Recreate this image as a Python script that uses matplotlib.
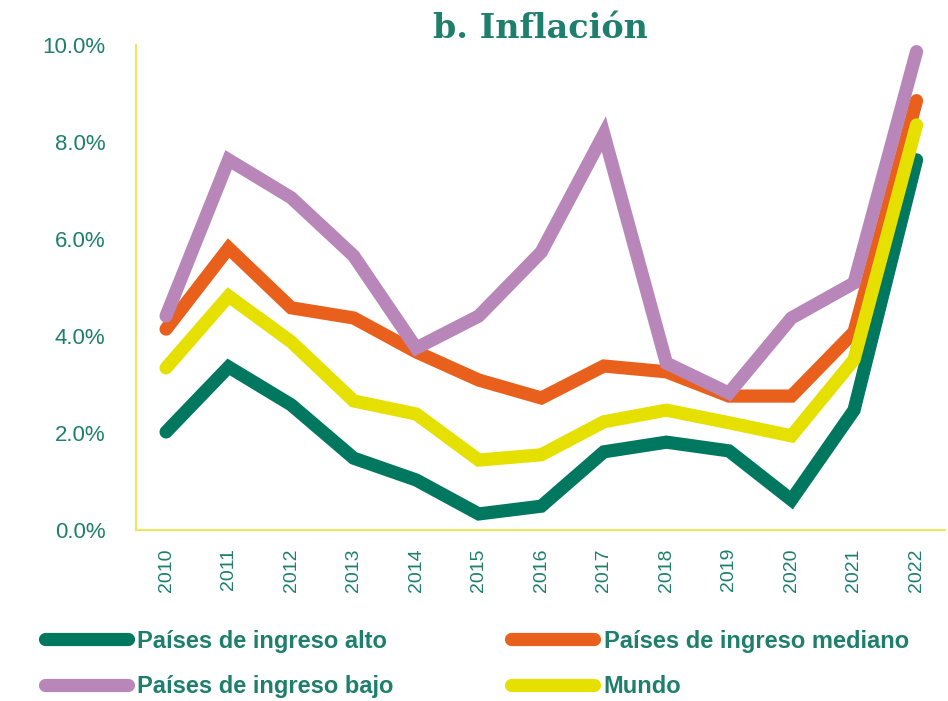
import matplotlib
matplotlib.use('Agg')
import matplotlib.pyplot as plt
from matplotlib.ticker import FuncFormatter

# '#' Data (inflation, %)
years = [2010, 2011, 2012, 2013, 2014, 2015, 2016, 2017, 2018, 2019, 2020, 2021, 2022]
alto = [2.02, 3.36, 2.58, 1.48, 1.03, 0.33, 0.49, 1.61, 1.81, 1.63, 0.62, 2.47, 7.63]
mediano = [4.14, 5.81, 4.58, 4.37, 3.67, 3.09, 2.72, 3.38, 3.26, 2.76, 2.76, 4.08, 8.85]
bajo = [4.41, 7.63, 6.85, 5.65, 3.75, 4.41, 5.73, 8.16, 3.44, 2.82, 4.37, 5.09, 9.86]
mundo = [3.34, 4.82, 3.88, 2.66, 2.39, 1.44, 1.55, 2.23, 2.47, 2.21, 1.94, 3.51, 8.35]

teal = '#1E7F6C'
sans = 'Liberation Sans'

fig = plt.figure(figsize=(9.48, 7.01), dpi=100)
ax = fig.add_axes([0.1435, 0.244, 0.853, 0.692])

lw = 9.5
style = dict(lw=lw, solid_capstyle='round', solid_joinstyle='miter')
l_alto, = ax.plot(years, alto, color='#00785F', label='Países de ingreso alto', **style)
l_med, = ax.plot(years, mediano, color='#E8601C', label='Países de ingreso mediano', **style)
l_bajo, = ax.plot(years, bajo, color='#B886B8', label='Países de ingreso bajo', **style)
l_mundo, = ax.plot(years, mundo, color='#E6E000', label='Mundo', **style)

ax.set_ylim(0, 10)
ax.set_xlim(2009.52, 2022.45)
ax.set_yticks([0, 2, 4, 6, 8, 10])
ax.yaxis.set_major_formatter(FuncFormatter(lambda v, p: '%.1f%%' % v))
ax.set_xticks(years)
ax.set_xticklabels([str(y) for y in years], rotation=90)

for s in ['top', 'right']:
    ax.spines[s].set_visible(False)
for s in ['left', 'bottom']:
    ax.spines[s].set_color('#EDE65A')
    ax.spines[s].set_linewidth(1.5)
ax.tick_params(length=0)
ax.tick_params(axis='y', pad=22, labelsize=16, labelcolor=teal)
ax.tick_params(axis='x', pad=13, labelsize=14, labelcolor=teal)
for t in ax.get_yticklabels() + ax.get_xticklabels():
    t.set_family(sans)

ax.set_title('b. Inflación', fontsize=24, fontweight='bold', color=teal,
             family='DejaVu Serif', pad=5, y=1.0)

# '#' order so rows read: alto | mediano, bajo | mundo
leg = fig.legend([l_alto, l_bajo, l_med, l_mundo],
                 [l_alto.get_label(), l_bajo.get_label(), l_med.get_label(), l_mundo.get_label()],
                 loc='lower left', bbox_to_anchor=(0.025, -0.026), ncol=2, frameon=False,
                 handlelength=3.5, columnspacing=5.0, labelspacing=0.95, handletextpad=0.4,
                 prop={'family': sans, 'weight': 'bold', 'size': 17})
for t in leg.get_texts():
    t.set_color(teal)

fig.savefig('out.png', dpi=100)
